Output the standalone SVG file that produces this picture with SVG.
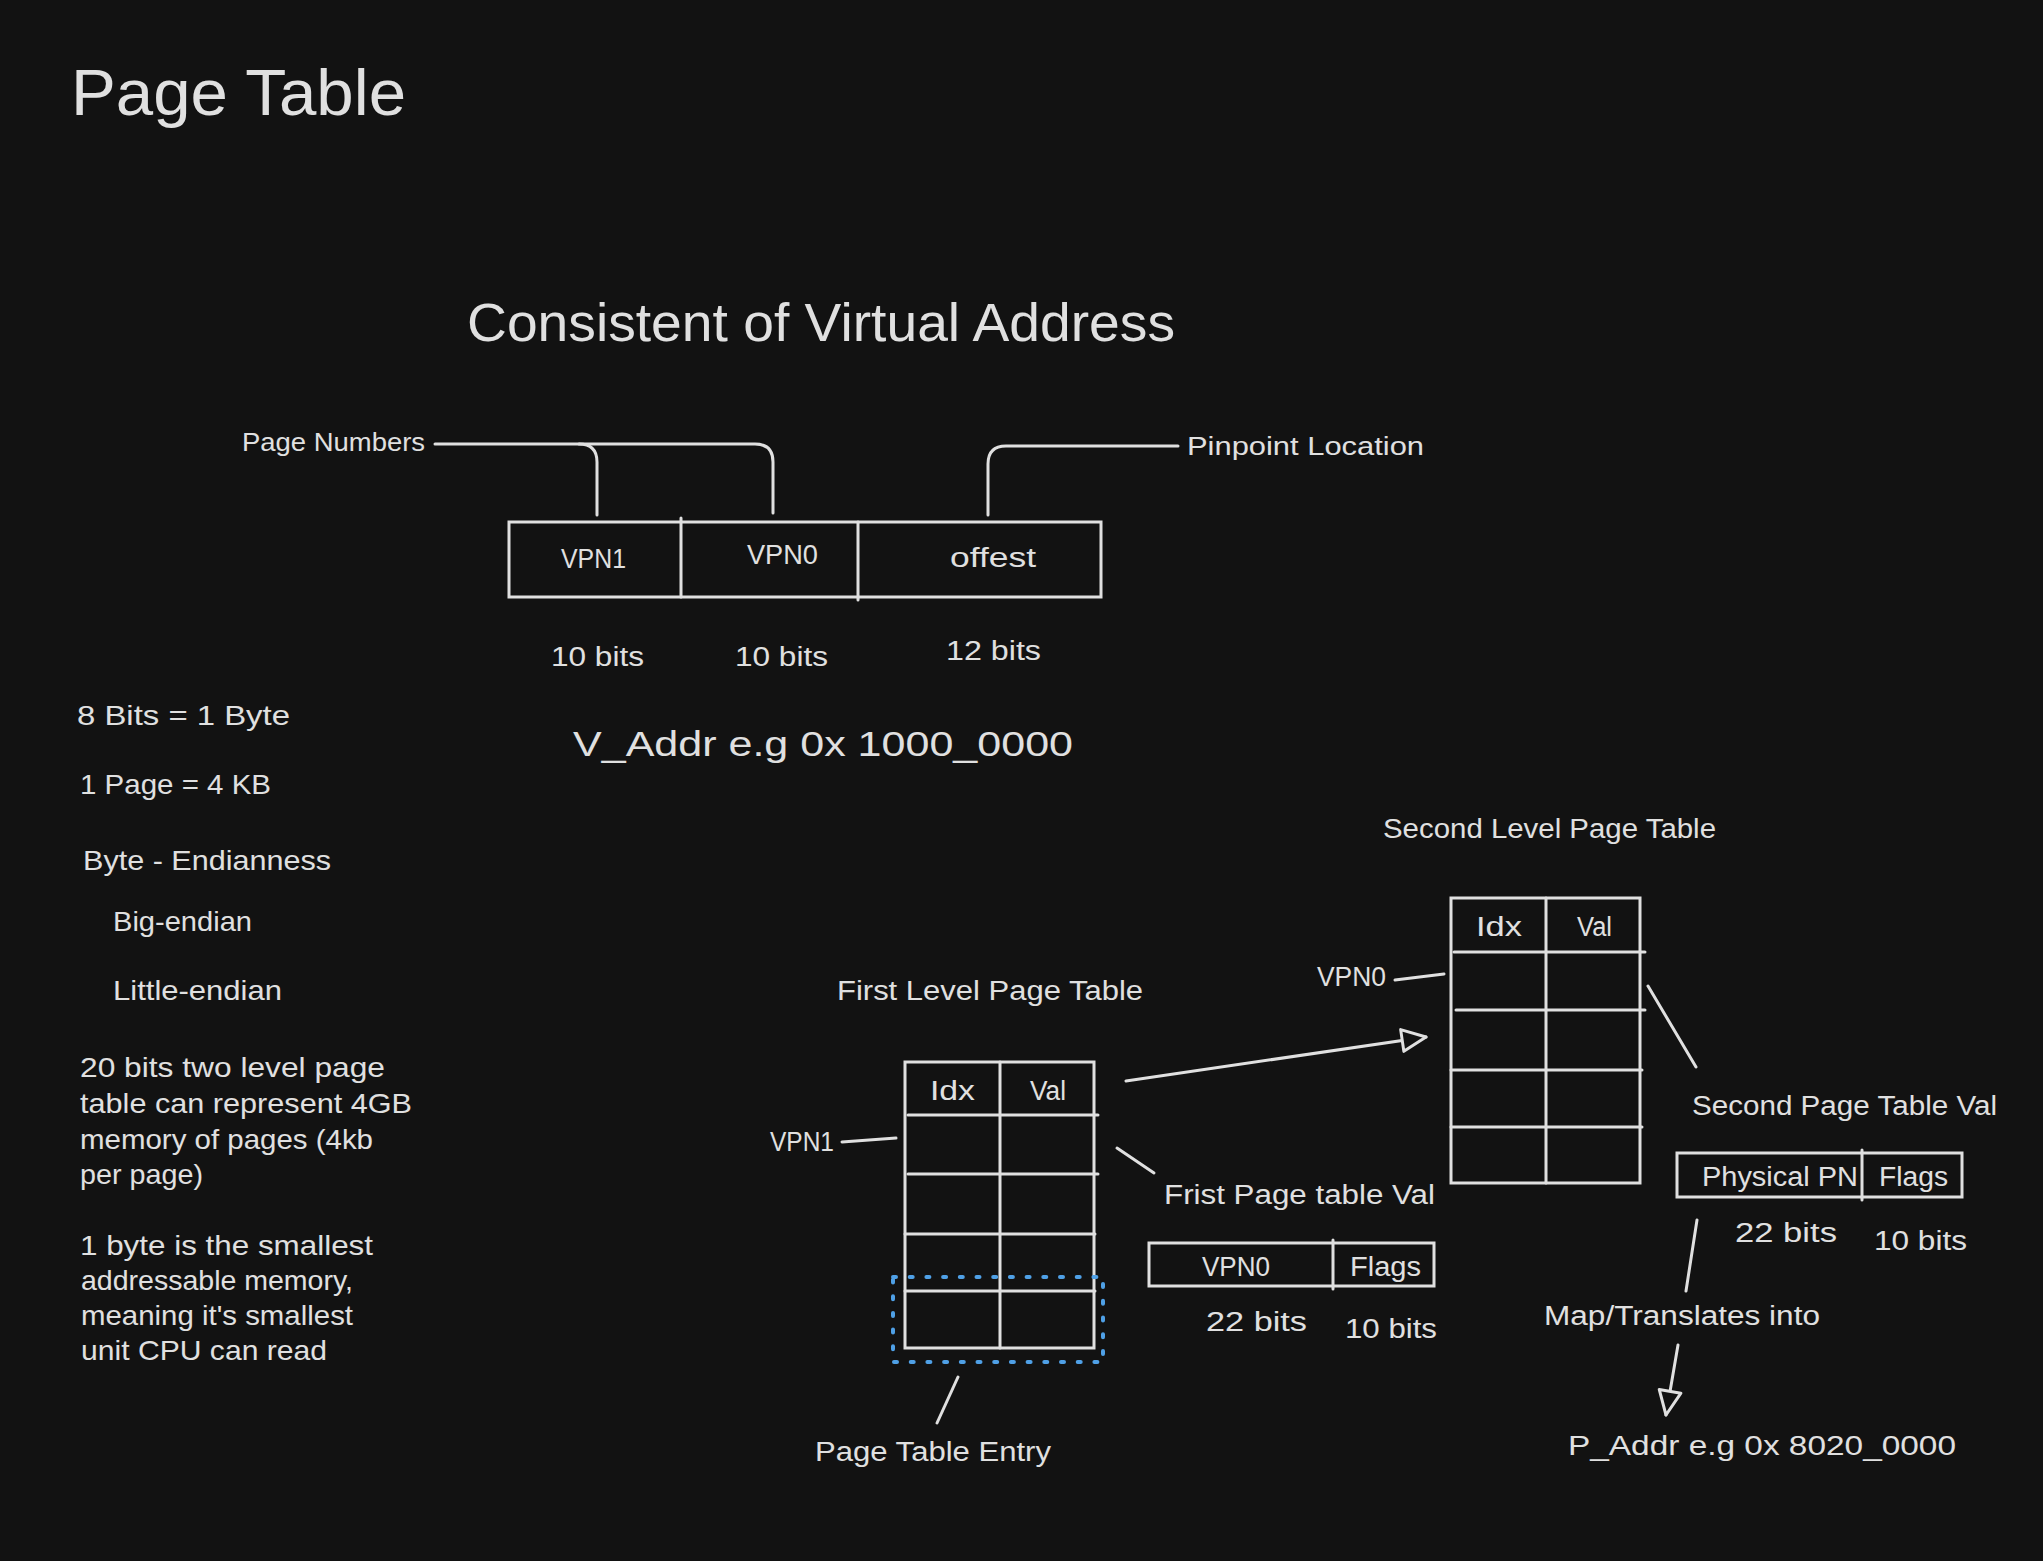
<svg xmlns="http://www.w3.org/2000/svg" width="2043" height="1561" viewBox="0 0 2043 1561">
<style>
text{font-family:"Liberation Sans",Arial,sans-serif;fill:#e0e0e0;}
.ln{fill:none;stroke:#e0e0e0;stroke-width:3;stroke-linecap:round;stroke-linejoin:round;}
.box{fill:none;stroke:#e0e0e0;stroke-width:3;}
.dot{fill:none;stroke:#4fa0e6;stroke-width:4;stroke-linecap:round;stroke-dasharray:3 13.7;}
.t25{font-size:25px;}
.t27{font-size:27px;}
.t28{font-size:28px;}
</style>
<defs>
<marker id="tri" viewBox="0 0 28 26" refX="26" refY="13" markerWidth="28" markerHeight="26" markerUnits="userSpaceOnUse" orient="auto">
<path d="M2,2 L26,13 L2,24 Z" fill="#121212" stroke="#e0e0e0" stroke-width="3" stroke-linejoin="round"/>
</marker>
</defs>
<rect width="2043" height="1561" fill="#121212"/>

<g id="title"><text x="71" y="115" font-size="64" textLength="335" lengthAdjust="spacingAndGlyphs">Page Table</text></g>
<g id="heading"><text x="467" y="341" font-size="54" textLength="708" lengthAdjust="spacingAndGlyphs">Consistent of Virtual Address</text></g>

<g id="label-page-numbers"><text class="t25" x="242" y="451" textLength="183" lengthAdjust="spacingAndGlyphs">Page Numbers</text></g>
<g id="label-pinpoint"><text class="t25" x="1187" y="455" textLength="237" lengthAdjust="spacingAndGlyphs">Pinpoint Location</text></g>

<g id="vaddr-box">
<rect class="box" x="509" y="522" width="592" height="75"/>
<line class="ln" x1="681" y1="518" x2="681" y2="597"/>
<line class="ln" x1="858" y1="522" x2="858" y2="600"/>
<text class="t27" x="561" y="568" textLength="65" lengthAdjust="spacingAndGlyphs">VPN1</text>
<text class="t27" x="747" y="564" textLength="71" lengthAdjust="spacingAndGlyphs">VPN0</text>
<text class="t27" x="950" y="567" textLength="86" lengthAdjust="spacingAndGlyphs">offest</text>
</g>
<g id="bits-labels">
<text class="t27" x="551" y="666" textLength="93" lengthAdjust="spacingAndGlyphs">10 bits</text>
<text class="t27" x="735" y="666" textLength="93" lengthAdjust="spacingAndGlyphs">10 bits</text>
<text class="t27" x="946" y="660" textLength="95" lengthAdjust="spacingAndGlyphs">12 bits</text>
</g>
<g id="vaddr-example"><text x="573" y="756" font-size="35" textLength="500" lengthAdjust="spacingAndGlyphs">V_Addr e.g 0x 1000_0000</text></g>

<g id="notes">
<text class="t28" x="77" y="725" textLength="213" lengthAdjust="spacingAndGlyphs">8 Bits = 1 Byte</text>
<text class="t28" x="80" y="794" textLength="191" lengthAdjust="spacingAndGlyphs">1 Page = 4 KB</text>
<text class="t28" x="83" y="870" textLength="248" lengthAdjust="spacingAndGlyphs">Byte - Endianness</text>
<text class="t28" x="113" y="931" textLength="139" lengthAdjust="spacingAndGlyphs">Big-endian</text>
<text class="t28" x="113" y="1000" textLength="169" lengthAdjust="spacingAndGlyphs">Little-endian</text>
<text class="t28" x="80" y="1077" textLength="305" lengthAdjust="spacingAndGlyphs">20 bits two level page</text>
<text class="t28" x="80" y="1113" textLength="332" lengthAdjust="spacingAndGlyphs">table can represent 4GB</text>
<text class="t28" x="80" y="1149" textLength="293" lengthAdjust="spacingAndGlyphs">memory of pages (4kb</text>
<text class="t28" x="80" y="1184" textLength="123" lengthAdjust="spacingAndGlyphs">per page)</text>
<text class="t28" x="80" y="1255" textLength="293" lengthAdjust="spacingAndGlyphs">1 byte is the smallest</text>
<text class="t28" x="81" y="1290" textLength="272" lengthAdjust="spacingAndGlyphs">addressable memory,</text>
<text class="t28" x="81" y="1325" textLength="272" lengthAdjust="spacingAndGlyphs">meaning it's smallest</text>
<text class="t28" x="81" y="1360" textLength="246" lengthAdjust="spacingAndGlyphs">unit CPU can read</text>
</g>

<g id="first-level-table">
<text class="t27" x="837" y="1000" textLength="306" lengthAdjust="spacingAndGlyphs">First Level Page Table</text>
<rect class="box" x="905" y="1062" width="189" height="286"/>
<line class="ln" x1="1000" y1="1062" x2="1000" y2="1348"/>
<line class="ln" x1="908" y1="1115" x2="1098" y2="1115"/>
<line class="ln" x1="908" y1="1174" x2="1098" y2="1174"/>
<line class="ln" x1="905" y1="1234" x2="1095" y2="1234"/>
<line class="ln" x1="905" y1="1291" x2="1095" y2="1291"/>
<text class="t27" x="930" y="1100" textLength="45" lengthAdjust="spacingAndGlyphs">Idx</text>
<text class="t27" x="1030" y="1100" textLength="36" lengthAdjust="spacingAndGlyphs">Val</text>
<text class="t27" x="770" y="1151" textLength="64" lengthAdjust="spacingAndGlyphs">VPN1</text>
</g>

<g id="page-table-entry">
<rect class="dot" x="893" y="1277" width="210" height="85"/>
<text class="t27" x="815" y="1461" textLength="236" lengthAdjust="spacingAndGlyphs">Page Table Entry</text>
</g>

<g id="first-page-table-val">
<text class="t27" x="1164" y="1204" textLength="271" lengthAdjust="spacingAndGlyphs">Frist Page table Val</text>
<rect class="box" x="1149" y="1243" width="285" height="43"/>
<line class="ln" x1="1333" y1="1240" x2="1333" y2="1289"/>
<text class="t27" x="1202" y="1276" textLength="68" lengthAdjust="spacingAndGlyphs">VPN0</text>
<text class="t27" x="1350" y="1276" textLength="71" lengthAdjust="spacingAndGlyphs">Flags</text>
<text class="t27" x="1206" y="1331" textLength="101" lengthAdjust="spacingAndGlyphs">22 bits</text>
<text class="t27" x="1345" y="1338" textLength="92" lengthAdjust="spacingAndGlyphs">10 bits</text>
</g>

<g id="second-level-table">
<text class="t27" x="1383" y="838" textLength="333" lengthAdjust="spacingAndGlyphs">Second Level Page Table</text>
<rect class="box" x="1451" y="898" width="189" height="285"/>
<line class="ln" x1="1546" y1="898" x2="1546" y2="1183"/>
<line class="ln" x1="1454" y1="952" x2="1645" y2="952"/>
<line class="ln" x1="1456" y1="1010" x2="1645" y2="1010"/>
<line class="ln" x1="1451" y1="1070" x2="1642" y2="1070"/>
<line class="ln" x1="1451" y1="1127" x2="1642" y2="1127"/>
<text class="t27" x="1476" y="936" textLength="46" lengthAdjust="spacingAndGlyphs">Idx</text>
<text class="t27" x="1577" y="936" textLength="35" lengthAdjust="spacingAndGlyphs">Val</text>
<text class="t27" x="1317" y="986" textLength="69" lengthAdjust="spacingAndGlyphs">VPN0</text>
</g>

<g id="second-page-table-val">
<text class="t27" x="1692" y="1115" textLength="305" lengthAdjust="spacingAndGlyphs">Second Page Table Val</text>
<rect class="box" x="1677" y="1153" width="285" height="44"/>
<line class="ln" x1="1862" y1="1150" x2="1862" y2="1200"/>
<text class="t27" x="1702" y="1186" textLength="156" lengthAdjust="spacingAndGlyphs">Physical PN</text>
<text class="t27" x="1879" y="1186" textLength="69" lengthAdjust="spacingAndGlyphs">Flags</text>
<text class="t27" x="1735" y="1242" textLength="102" lengthAdjust="spacingAndGlyphs">22 bits</text>
<text class="t27" x="1874" y="1250" textLength="93" lengthAdjust="spacingAndGlyphs">10 bits</text>
</g>

<g id="map-label"><text class="t27" x="1544" y="1325" textLength="276" lengthAdjust="spacingAndGlyphs">Map/Translates into</text></g>
<g id="paddr-example"><text class="t28" x="1568" y="1455" textLength="388" lengthAdjust="spacingAndGlyphs">P_Addr e.g 0x 8020_0000</text></g>

<g id="connectors">
<path class="ln" d="M435,444 H579 Q597,444 597,462 V515"/>
<path class="ln" d="M579,444 H755 Q773,444 773,462 V513"/>
<path class="ln" d="M1178,446 H1006 Q988,446 988,464 V515"/>
<line class="ln" x1="842" y1="1142" x2="896" y2="1138"/>
<line class="ln" x1="1117" y1="1148" x2="1154" y2="1173"/>
<line class="ln" x1="958" y1="1377" x2="937" y2="1423"/>
<line class="ln" x1="1126" y1="1081" x2="1426" y2="1037" marker-end="url(#tri)"/>
<line class="ln" x1="1395" y1="980" x2="1444" y2="974"/>
<line class="ln" x1="1648" y1="986" x2="1696" y2="1067"/>
<line class="ln" x1="1697" y1="1220" x2="1686" y2="1291"/>
<line class="ln" x1="1678" y1="1345" x2="1666" y2="1415" marker-end="url(#tri)"/>
</g>
</svg>
